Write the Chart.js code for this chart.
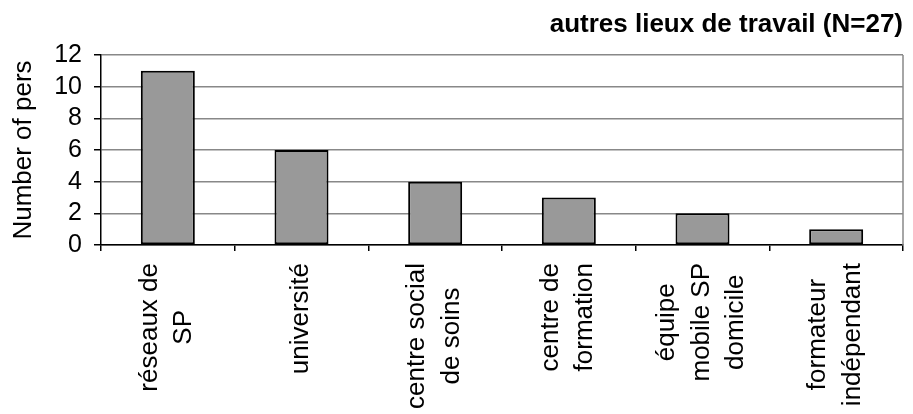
<!DOCTYPE html>
<html>
<head>
<meta charset="utf-8">
<script src="https://cdn.jsdelivr.net/npm/chart.js@4/dist/chart.umd.min.js"></script>
<style>
  html, body { margin: 0; padding: 0; background: #fff; }
  #c { display: block; }
</style>
</head>
<body>
<canvas id="c" width="913" height="414"></canvas>
<script>
// Workplace categories (multi-line labels) and head counts
const categories = [
  ["réseaux de", "SP"],
  ["université"],
  ["centre social", "de soins"],
  ["centre de", "formation"],
  ["équipe", "mobile SP", "domicile"],
  ["formateur", "indépendant"]
];
const counts = [11, 6, 4, 3, 2, 1];
const yTicks = [0, 2, 4, 6, 8, 10, 12];
const chartTitle = "autres lieux de travail (N=27)";
const yTitle = "Number of pers";

const FONT = '"Liberation Sans", Arial, sans-serif';

// Vertical category labels: lines centred on each other, block hanging below the axis
const xLabelPlugin = {
  id: "xLabels",
  afterDraw(chart) {
    const xs = chart.scales.x;
    const ctx = chart.ctx;
    ctx.save();
    ctx.font = "26px " + FONT;
    ctx.fillStyle = "#000";
    ctx.textAlign = "center";
    ctx.textBaseline = "middle";
    const lineH = 34.5;
    chart.data.labels.forEach((lines, i) => {
      const px = xs.getPixelForValue(i) - 1;
      const maxW = Math.max(...lines.map(l => ctx.measureText(l).width));
      const cy = xs.top + 18 + maxW / 2;
      ctx.save();
      ctx.translate(px, cy);
      ctx.rotate(-Math.PI / 2);
      lines.forEach((l, j) => {
        ctx.fillText(l, 0, (j - (lines.length - 1) / 2) * lineH);
      });
      ctx.restore();
    });
    ctx.restore();
  }
};

// Grey frame line on the right side of the plot area
const rightFramePlugin = {
  id: "rightFrame",
  beforeDatasetsDraw(chart) {
    const a = chart.chartArea;
    const ctx = chart.ctx;
    ctx.save();
    ctx.strokeStyle = "#888";
    ctx.lineWidth = 1.5;
    ctx.beginPath();
    ctx.moveTo(a.right, a.top);
    ctx.lineTo(a.right, a.bottom);
    ctx.stroke();
    ctx.restore();
  }
};

new Chart(document.getElementById("c"), {
  type: "bar",
  data: {
    labels: categories,
    datasets: [{
      data: counts,
      backgroundColor: "#999999",
      borderColor: "#000",
      borderWidth: 2,
      borderSkipped: false,
      categoryPercentage: 1,
      barPercentage: 0.404
    }]
  },
  options: {
    responsive: false,
    animation: false,
    layout: { padding: { left: 0, right: 10, top: 0, bottom: 0 } },
    plugins: {
      legend: { display: false },
      tooltip: { enabled: false },
      title: {
        display: true,
        text: chartTitle,
        align: "end",
        color: "#000",
        font: { family: FONT, size: 26, weight: "bold", lineHeight: 1.2 },
        padding: { top: 9, bottom: 14.8 }
      }
    },
    scales: {
      x: {
        afterFit(scale) { scale.height = 169; },
        ticks: { display: false },
        grid: {
          display: true,
          drawOnChartArea: false,
          drawTicks: true,
          tickLength: 6,
          color: "#000",
          lineWidth: 1.5
        },
        border: { display: true, color: "#000", width: 1.5 }
      },
      y: {
        min: yTicks[0],
        max: yTicks[yTicks.length - 1],
        afterFit(scale) { scale.width = 101; },
        ticks: {
          stepSize: yTicks[1] - yTicks[0],
          autoSkip: false,
          color: "#000",
          padding: 12,
          font: { family: FONT, size: 25 }
        },
        grid: {
          color: "#888",
          lineWidth: 1.5,
          tickColor: "#000",
          tickLength: 7
        },
        border: { display: true, color: "#000", width: 1.5 },
        title: {
          display: true,
          text: yTitle,
          color: "#000",
          font: { family: FONT, size: 26 },
          padding: { top: 8, bottom: 0 }
        }
      }
    }
  },
  plugins: [xLabelPlugin, rightFramePlugin]
});
</script>
</body>
</html>
